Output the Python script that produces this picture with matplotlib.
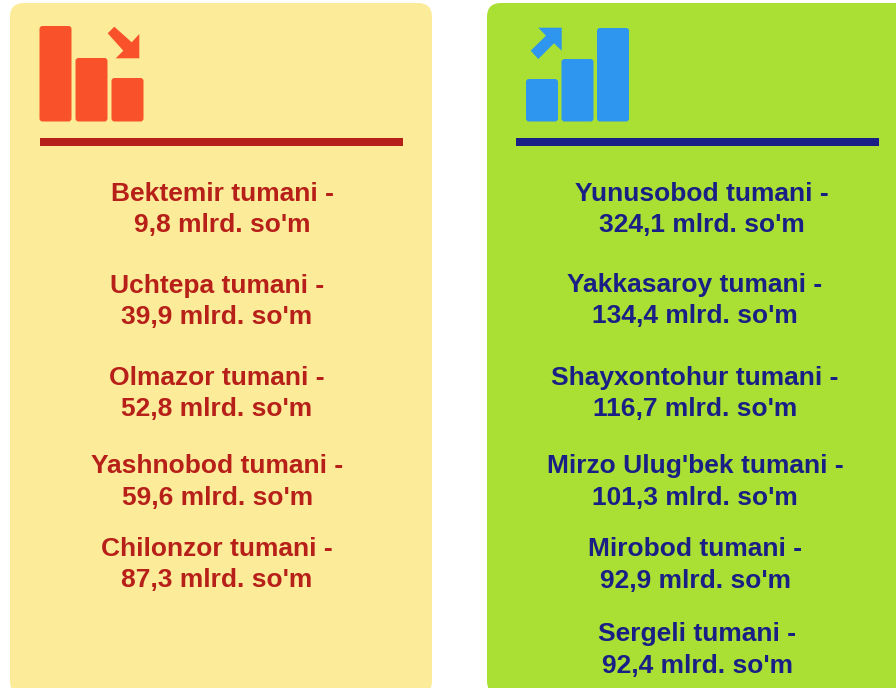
import matplotlib
matplotlib.use("Agg")
import matplotlib.pyplot as plt
from matplotlib.patches import FancyBboxPatch, Polygon, Rectangle

plt.rcParams['font.family'] = ['Liberation Sans', 'DejaVu Sans']

low_districts = ["Bektemir tumani", "Uchtepa tumani", "Olmazor tumani", "Yashnobod tumani", "Chilonzor tumani"]
low_values = [9.8, 39.9, 52.8, 59.6, 87.3]
high_districts = ["Yunusobod tumani", "Yakkasaroy tumani", "Shayxontohur tumani", "Mirzo Ulug'bek tumani", "Mirobod tumani", "Sergeli tumani"]
high_values = [324.1, 134.4, 116.7, 101.3, 92.9, 92.4]
unit = "mlrd. so'm"

# layout only, text baselines in reference pixels
low_x = [222.5, 217, 217, 217.5, 216.5]
low_y = [(201, 232.3), (293, 324), (385, 416), (473.3, 505), (555.7, 587)]
high_x = [702, 695, 695, 695, 695, 697.5]
high_y = [(201, 232.3), (292, 323), (385, 416), (473.3, 505), (556, 587.7), (641, 673.3)]

W, H = 896, 688
fig = plt.figure(figsize=(W / 100, H / 100), dpi=100, facecolor="white")
ax = fig.add_axes([0, 0, 1, 1])
ax.set_xlim(0, W)
ax.set_ylim(H, 0)
ax.axis("off")

RED, ORANGE, YELLOW = "#B71F19", "#F9522A", "#FCEB98"
NAVY, BLUE, GREEN = "#1A1F85", "#2E96EE", "#A9E033"
FS = 19.0


def panel(x0, x1, color):
    r = 14
    ax.add_patch(FancyBboxPatch((x0 + r, 3 + r), x1 - x0 - 2 * r, 695 - 3 - 2 * r,
                                boxstyle=f"round,pad={r},rounding_size={r}",
                                fc=color, ec="none", zorder=1))


def bar(x0, x1, y0, y1, color):
    r = 3
    ax.add_patch(FancyBboxPatch((x0 + r, y0 + r), x1 - x0 - 2 * r, y1 - y0 - 2 * r,
                                boxstyle=f"round,pad={r},rounding_size={r}",
                                fc=color, ec="none", zorder=2))


def labels(names, values, xs, ys, color):
    for name, v, x, (y1, y2) in zip(names, values, xs, ys):
        ax.text(x, y1, f"{name} -", color=color, fontsize=FS, fontweight="bold",
                ha="center", va="baseline", zorder=3)
        ax.text(x, y2, f"{v:.1f}".replace(".", ",") + f" {unit}", color=color, fontsize=FS,
                fontweight="bold", ha="center", va="baseline", zorder=3)


panel(10, 432, YELLOW)
panel(487, 910, GREEN)

for b in [(39.5, 71.5, 26, 121.5), (75.5, 107.5, 58, 121.5), (111.5, 143.5, 78, 121.5)]:
    bar(*b, ORANGE)
ax.add_patch(Polygon([(107.7, 33.3), (114.3, 26.7), (131.7, 42.3), (139.3, 34),
                      (139.3, 58.3), (115.7, 58.3), (123.3, 50.7)], fc=ORANGE, ec="none", zorder=2))
ax.add_patch(Rectangle((39.5, 138), 363, 8, fc=RED, ec="none", zorder=2))

for b in [(526, 558, 79, 121.5), (561.5, 593.5, 59, 121.5), (597, 629, 28, 121.5)]:
    bar(*b, BLUE)
ax.add_patch(Polygon([(538.3, 27.7), (561.7, 27.7), (561.7, 50.7), (554, 43.3),
                      (538.3, 59), (530.7, 50.7), (546, 35.7)], fc=BLUE, ec="none", zorder=2))
ax.add_patch(Rectangle((516.3, 138), 363, 8, fc=NAVY, ec="none", zorder=2))

labels(low_districts, low_values, low_x, low_y, RED)
labels(high_districts, high_values, high_x, high_y, NAVY)

fig.savefig("out.png", dpi=100, facecolor="white")
